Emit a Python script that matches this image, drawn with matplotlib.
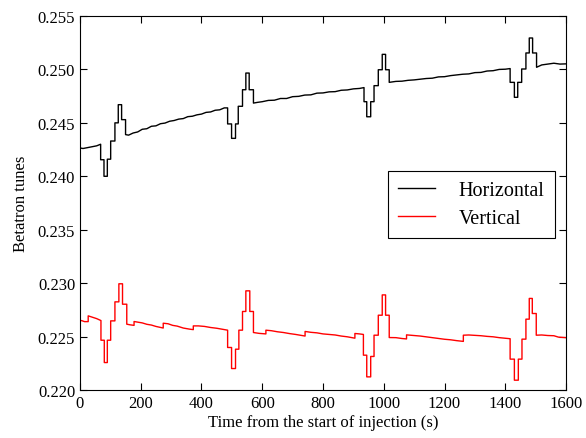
import matplotlib
matplotlib.use("Agg")
import matplotlib.pyplot as plt

# Horizontal tune (black). Repeated times are the jumps of the
# trim steps; the slow drift in between is read off every ~20 s.
time_h = [0, 10, 25, 40, 55, 68,
          68, 79, 79, 90, 90, 101, 101, 115, 115, 126, 126, 137, 137, 150, 150,
          160, 175, 190, 205, 220, 235, 250, 265, 280, 295, 310, 325, 340,
          355, 370, 385, 400, 415, 430, 445, 460, 475, 486,
          486, 499, 499, 512, 512, 521, 521, 535, 535, 546, 546, 557, 557, 571, 571,
          585, 600, 620, 640, 660, 680, 700, 720, 740, 760, 780, 800, 820,
          840, 860, 880, 900, 920, 935,
          935, 944, 944, 957, 957, 968, 968, 982, 982, 995, 995, 1006, 1006, 1018, 1018,
          1040, 1060, 1080, 1100, 1120, 1140, 1160, 1180, 1200, 1220, 1240,
          1260, 1280, 1300, 1320, 1340, 1360, 1380, 1400, 1416,
          1416, 1430, 1430, 1441, 1441, 1454, 1454, 1468, 1468, 1479, 1479, 1490, 1490, 1503, 1503,
          1520, 1540, 1560, 1580, 1600]
tune_h = [0.24265, 0.24260, 0.24268, 0.24275, 0.24285, 0.24300,
          0.24155, 0.24155, 0.24000, 0.24000, 0.24160, 0.24160, 0.24330, 0.24330,
          0.24500, 0.24500, 0.24670, 0.24670, 0.24530, 0.24530, 0.24390,
          0.24385, 0.24405, 0.24415, 0.24440, 0.24445, 0.24468, 0.24472,
          0.24492, 0.24498, 0.24515, 0.24522, 0.24535, 0.24540, 0.24558,
          0.24562, 0.24575, 0.24582, 0.24598, 0.24602, 0.24618, 0.24622,
          0.24640, 0.24640,
          0.24490, 0.24490, 0.24355, 0.24355, 0.24490, 0.24490, 0.24655, 0.24655,
          0.24810, 0.24810, 0.24966, 0.24966, 0.24810, 0.24810, 0.24685,
          0.24692, 0.24698, 0.24710, 0.24712, 0.24728, 0.24728, 0.24745,
          0.24748, 0.24760, 0.24762, 0.24778, 0.24780, 0.24790, 0.24792,
          0.24805, 0.24808, 0.24818, 0.24822, 0.24830,
          0.24698, 0.24698, 0.24557, 0.24557, 0.24698, 0.24698, 0.24848, 0.24848,
          0.24997, 0.24997, 0.25141, 0.25141, 0.24997, 0.24997, 0.24879,
          0.24888, 0.24890, 0.24898, 0.24902, 0.24908, 0.24915, 0.24918,
          0.24930, 0.24932, 0.24942, 0.24948, 0.24955, 0.24958, 0.24970,
          0.24972, 0.24985, 0.24988, 0.25000, 0.25002, 0.25008,
          0.24879, 0.24879, 0.24739, 0.24739, 0.24879, 0.24879, 0.25004, 0.25004,
          0.25154, 0.25154, 0.25294, 0.25294, 0.25154, 0.25154, 0.25020,
          0.25042, 0.25050, 0.25058, 0.25050, 0.25052]

# Vertical tune (red)
time_v = [0, 5, 15, 27, 27, 40, 55, 69,
          69, 80, 80, 90, 90, 101, 101, 115, 115, 128, 128, 140, 140, 154, 154,
          165, 178, 178, 190, 205, 220, 235, 250, 265, 274, 274, 290, 305,
          320, 340, 360, 373, 373, 390, 410, 430, 450, 470, 486,
          486, 499, 499, 512, 512, 523, 523, 535, 535, 546, 546, 559, 559, 571, 571,
          590, 612, 612, 630, 650, 670, 690, 710, 741, 741, 760, 780, 800,
          820, 840, 860, 880, 905, 905, 920, 933,
          933, 944, 944, 957, 957, 968, 968, 982, 982, 995, 995, 1006, 1006, 1018, 1018,
          1040, 1060, 1075, 1075, 1100, 1120, 1140, 1160, 1180, 1200, 1220,
          1240, 1262, 1262, 1280, 1300, 1320, 1340, 1360, 1380, 1400, 1416,
          1416, 1430, 1430, 1443, 1443, 1455, 1455, 1468, 1468, 1479, 1479, 1489, 1489, 1502, 1502,
          1520, 1540, 1560, 1575, 1600]
tune_v = [0.22647, 0.22650, 0.22640, 0.22640, 0.22694, 0.22682, 0.22668, 0.22650,
          0.22466, 0.22466, 0.22257, 0.22257, 0.22466, 0.22466, 0.22647, 0.22647,
          0.22825, 0.22825, 0.22994, 0.22994, 0.22803, 0.22803, 0.22616,
          0.22610, 0.22605, 0.22641, 0.22635, 0.22628, 0.22615, 0.22608,
          0.22595, 0.22585, 0.22580, 0.22625, 0.22620, 0.22605, 0.22598,
          0.22580, 0.22570, 0.22565, 0.22600, 0.22600, 0.22595, 0.22585,
          0.22578, 0.22568, 0.22560,
          0.22398, 0.22398, 0.22201, 0.22201, 0.22382, 0.22382, 0.22560, 0.22560,
          0.22735, 0.22735, 0.22928, 0.22928, 0.22735, 0.22735, 0.22538,
          0.22530, 0.22525, 0.22560, 0.22555, 0.22545, 0.22538, 0.22528,
          0.22520, 0.22505, 0.22548, 0.22540, 0.22535, 0.22525, 0.22520,
          0.22515, 0.22505, 0.22498, 0.22485, 0.22529, 0.22525, 0.22520,
          0.22326, 0.22326, 0.22123, 0.22123, 0.22314, 0.22314, 0.22513, 0.22513,
          0.22700, 0.22700, 0.22890, 0.22890, 0.22700, 0.22700, 0.22491,
          0.22490, 0.22482, 0.22478, 0.22516, 0.22510, 0.22505, 0.22498,
          0.22490, 0.22482, 0.22475, 0.22470, 0.22462, 0.22455, 0.22513,
          0.22515, 0.22512, 0.22508, 0.22502, 0.22498, 0.22490, 0.22485,
          0.22480,
          0.22289, 0.22289, 0.22092, 0.22092, 0.22289, 0.22289, 0.22476, 0.22476,
          0.22663, 0.22663, 0.22857, 0.22857, 0.22716, 0.22716, 0.22513,
          0.22515, 0.22510, 0.22508, 0.22495, 0.22490]

x_ticks = [0, 200, 400, 600, 800, 1000, 1200, 1400, 1600]
y_ticks = [0.220, 0.225, 0.230, 0.235, 0.240, 0.245, 0.250, 0.255]

plt.rcParams["font.family"] = ["Liberation Serif", "DejaVu Serif"]

fig = plt.figure(figsize=(5.86, 4.39), dpi=100)
ax = fig.add_axes([0.1365, 0.1093, 0.8294, 0.852])

ax.plot(time_h, tune_h, color="black", linewidth=1.0, label="Horizontal")
ax.plot(time_v, tune_v, color="red", linewidth=1.0, label="Vertical")

ax.set_xlim(0, 1600)
ax.set_ylim(0.220, 0.255)
ax.set_xticks(x_ticks)
ax.set_yticks(y_ticks)
ax.set_yticklabels([f"{v:.3f}" for v in y_ticks])
ax.tick_params(direction="in", top=True, right=True, labelsize=12,
               length=5, width=0.8)
ax.set_xlabel("Time from the start of injection (s)", fontsize=12, labelpad=2)
ax.set_ylabel("Betatron tunes", fontsize=12, labelpad=6)

leg = ax.legend(loc="upper right", bbox_to_anchor=(0.977, 0.586),
                borderaxespad=0, fontsize=14.5, fancybox=False,
                edgecolor="black", framealpha=1, handlelength=1.8,
                handletextpad=1.2, borderpad=0.5, labelspacing=0.45)
leg.get_frame().set_linewidth(0.8)

fig.savefig("out.png", dpi=100)
